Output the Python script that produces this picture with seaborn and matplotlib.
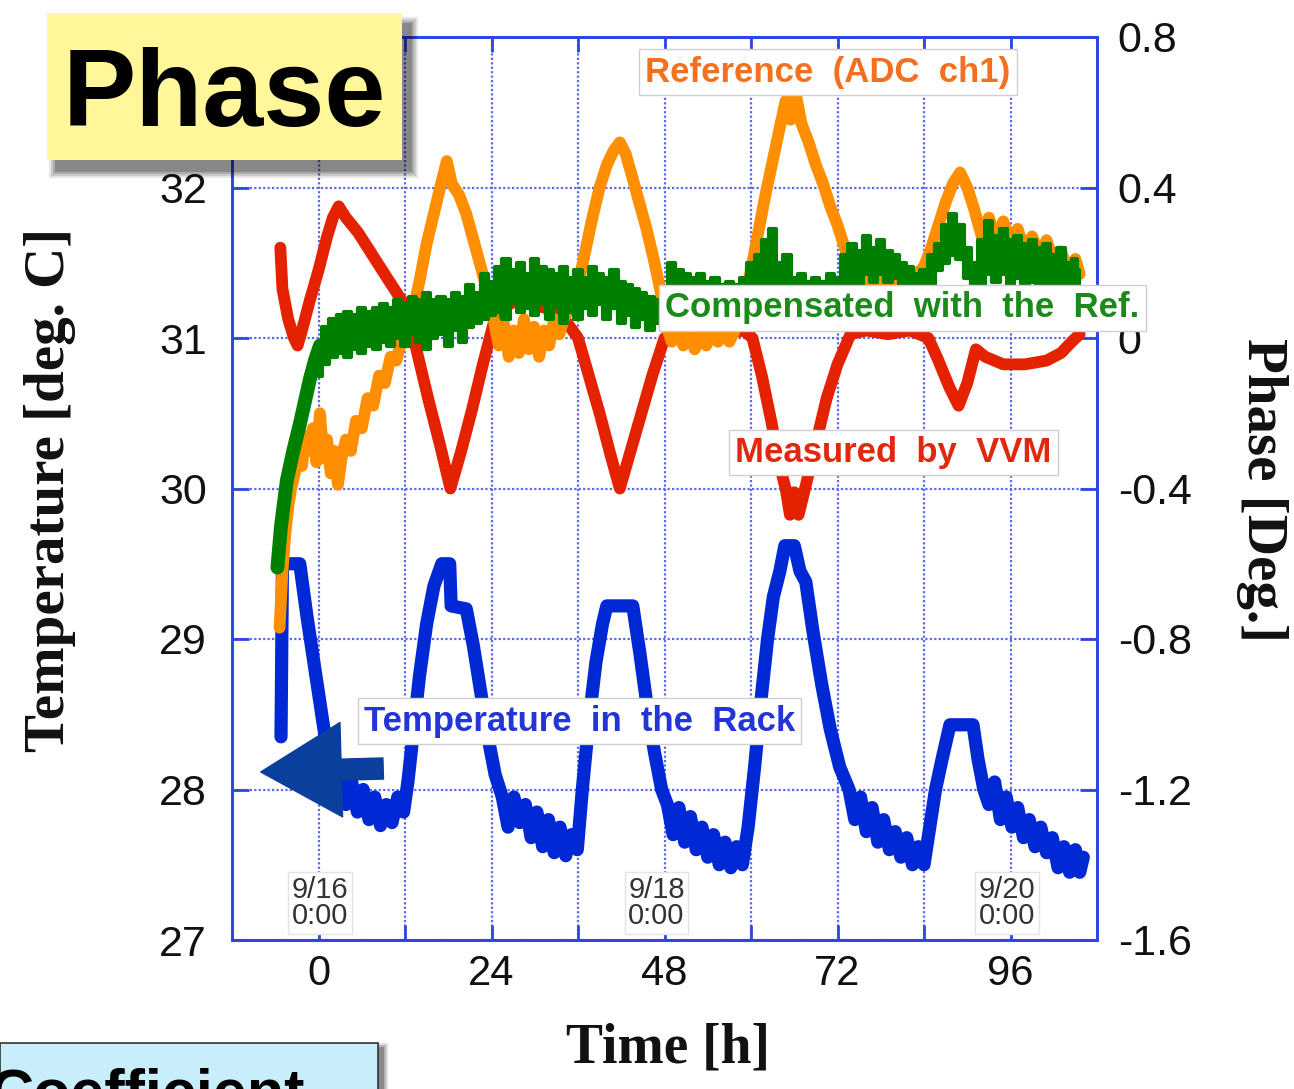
import matplotlib
matplotlib.use("Agg")
import matplotlib.pyplot as plt
import seaborn as sns
import numpy as np
from matplotlib.patches import Rectangle, FancyArrowPatch

# ---------------- data ----------------
blue_t = [-5.2, -5.0, -2.6, -1.6, -0.5, 0.6, 1.6, 2.3, 3.0, 3.8, 4.6, 5.4, 6.2, 7.0, 7.8, 8.6, 9.4,
          10.2, 11.0, 11.8, 12.4, 13.2, 14.0, 15.0, 16.0, 17.1, 18.2, 18.4, 20.5, 21.5, 22.5, 23.5,
          24.5, 25.5, 26.3, 27.1, 27.9, 28.7, 29.5, 30.3, 31.1, 31.9, 32.7, 33.5, 34.3, 35.1, 35.9,
          36.6, 37.5, 38.5, 39.4, 40.0, 43.6, 44.6, 45.6, 46.6, 47.6, 48.4, 49.2, 50.0, 50.8, 51.6,
          52.4, 53.2, 54.0, 54.8, 55.6, 56.4, 57.2, 58.0, 58.8, 59.6, 60.5, 61.4, 62.3, 63.1, 64.0,
          64.7, 66.0, 66.8, 67.6, 68.6, 69.8, 71.0, 72.3, 73.6, 74.4, 75.2, 76.0, 76.8, 77.6, 78.4,
          79.2, 80.0, 80.8, 81.6, 82.4, 83.2, 84.0, 84.8, 85.6, 86.5, 87.6, 90.8, 91.5, 92.3, 93.0,
          93.8, 94.6, 95.4, 96.2, 97.0, 97.8, 98.6, 99.4, 100.2, 101.0, 101.8, 102.6, 103.4, 104.2,
          105.0, 105.6, 106.1]
blue_temp = [28.35, 29.5, 29.5, 29.15, 28.8, 28.45, 28.15, 28.0, 28.1, 27.9, 28.05, 27.85, 28.0, 27.8,
             27.95, 27.76, 27.9, 27.78, 27.95, 27.85, 28.05, 28.4, 28.75, 29.1, 29.35, 29.5, 29.5,
             29.22, 29.2, 28.95, 28.65, 28.35, 28.1, 27.95, 27.75, 27.95, 27.78, 27.9, 27.68, 27.85,
             27.62, 27.8, 27.58, 27.75, 27.56, 27.7, 27.6, 28.0, 28.45, 28.85, 29.1, 29.22, 29.22,
             28.9, 28.55, 28.25, 28.0, 27.9, 27.7, 27.88, 27.65, 27.82, 27.6, 27.75, 27.55, 27.7,
             27.5, 27.65, 27.48, 27.62, 27.5, 27.75, 28.15, 28.6, 29.0, 29.28, 29.45, 29.62, 29.62,
             29.45, 29.38, 29.05, 28.7, 28.4, 28.15, 28.0, 27.8, 27.95, 27.72, 27.88, 27.65, 27.8,
             27.6, 27.72, 27.55, 27.68, 27.5, 27.62, 27.5, 27.75, 28.0, 28.2, 28.43, 28.43, 28.2,
             28.0, 27.9, 28.05, 27.8, 27.95, 27.75, 27.88, 27.68, 27.8, 27.62, 27.75, 27.58, 27.68,
             27.48, 27.62, 27.45, 27.6, 27.45, 27.55]

red_t = [-5.3, -5.0, -4.2, -3.4, -2.9, -2.3, -1.2, 0.0, 1.2, 2.0, 2.8, 3.8, 5.5, 7.5, 9.5, 11.2, 12.3,
         13.7, 15.2, 16.8, 18.3, 19.8, 21.3, 22.8, 24.3, 25.5, 27.5, 29.5, 31.5, 33.0, 34.5, 36.0,
         37.5, 39.0, 40.5, 41.8, 43.3, 44.8, 46.3, 48.0, 50.0, 53.0, 56.0, 59.0, 60.2, 61.5, 62.8,
         64.0, 64.8, 65.4, 66.0, 66.6, 67.5, 69.0, 70.5, 72.0, 73.8, 76.0, 79.0, 82.0, 84.6, 86.0,
         87.5, 88.8, 90.0, 91.2, 92.5, 95.0, 98.0, 101.0, 103.0, 104.5, 105.6]
red_phase = [0.24, 0.13, 0.05, 0.0, -0.02, 0.02, 0.10, 0.18, 0.27, 0.32, 0.35, 0.32, 0.28, 0.22, 0.16,
             0.11, 0.08, -0.04, -0.16, -0.28, -0.40, -0.30, -0.19, -0.07, 0.04, 0.08, 0.10, 0.09,
             0.08, 0.06, 0.04, 0.0, -0.10, -0.20, -0.31, -0.40, -0.30, -0.20, -0.10, 0.0, 0.02,
             0.02, 0.01, 0.02, 0.0, -0.10, -0.22, -0.34, -0.40, -0.47, -0.41, -0.47, -0.40, -0.28,
             -0.16, -0.07, 0.01, 0.02, 0.01, 0.02, 0.0, -0.06, -0.13, -0.18, -0.12, -0.03, -0.05,
             -0.07, -0.07, -0.06, -0.04, -0.01, 0.01]

orange_t = [-5.4, -5.0, -4.6, -4.2, -3.8, -3.3, -2.8, -2.3, -1.8, -1.3, -0.8, -0.3, 0.2, 0.7, 1.2, 1.7,
            2.2, 2.7, 3.2, 3.8, 4.5, 5.2, 6.0, 6.8, 7.6, 8.4, 9.2, 10.0, 10.8, 11.6, 12.4, 13.2, 14.0,
            15.0, 16.0, 17.0, 17.8, 18.5, 19.5, 20.5, 21.5, 22.5, 23.5, 24.3, 25.0, 25.7, 26.4, 27.1,
            27.8, 28.5, 29.2, 29.9, 30.6, 31.3, 32.0, 32.7, 33.4, 34.2, 35.0, 36.0, 37.0, 38.0, 39.0,
            40.0, 41.0, 41.8, 42.6, 43.5, 44.5, 45.5, 46.5, 47.5, 48.3, 49.0, 49.8, 50.6, 51.4, 52.2,
            53.0, 53.8, 54.6, 55.4, 56.2, 57.0, 58.0, 59.0, 60.0, 61.0, 62.0, 63.0, 64.0, 64.8, 65.5,
            66.2, 67.0, 68.0, 69.0, 70.0, 71.0, 72.0, 73.0, 74.0, 75.0, 76.0, 77.0, 78.0, 79.0, 80.0,
            81.0, 82.0, 83.0, 84.0, 85.0, 86.0, 87.0, 88.0, 89.0, 90.0, 91.0, 92.0, 93.0, 94.0, 95.0,
            96.0, 97.0, 98.0, 99.0, 100.0, 101.0, 102.0, 103.0, 104.0, 105.0, 105.6]
orange_phase = [-0.77, -0.62, -0.52, -0.45, -0.40, -0.36, -0.30, -0.34, -0.26, -0.30, -0.24, -0.33,
                -0.20, -0.32, -0.27, -0.36, -0.30, -0.39, -0.32, -0.27, -0.30, -0.22, -0.24, -0.16,
                -0.18, -0.10, -0.12, -0.05, -0.06, 0.00, 0.02, 0.08, 0.15, 0.25, 0.33, 0.41, 0.47,
                0.41, 0.38, 0.33, 0.26, 0.19, 0.12, 0.05, -0.02, 0.04, -0.05, 0.02, -0.04, 0.05, -0.03,
                0.03, -0.05, 0.02, -0.02, 0.05, 0.01, 0.06, 0.08, 0.14, 0.23, 0.32, 0.40, 0.46, 0.50,
                0.52, 0.49, 0.43, 0.36, 0.29, 0.21, 0.12, 0.03, -0.01, 0.02, -0.02, 0.01, -0.03, 0.01,
                -0.02, 0.02, -0.01, 0.01, -0.01, 0.03, 0.10, 0.18, 0.28, 0.38, 0.47, 0.56, 0.63, 0.58,
                0.65, 0.57, 0.52, 0.46, 0.41, 0.35, 0.30, 0.24, 0.18, 0.13, 0.16, 0.12, 0.15, 0.12,
                0.15, 0.13, 0.16, 0.17, 0.19, 0.24, 0.30, 0.36, 0.41, 0.44, 0.40, 0.34, 0.27, 0.32,
                0.26, 0.31, 0.25, 0.29, 0.23, 0.27, 0.22, 0.26, 0.20, 0.23, 0.18, 0.21, 0.17]

green_rise_t = [-5.7, -5.2, -4.4, -3.5, -2.6, -1.9, -1.2, -0.5, 0.2]
green_rise_phase = [-0.61, -0.50, -0.38, -0.30, -0.23, -0.17, -0.11, -0.06, -0.02]

green_t = list(range(0, 106)) + [105.5]
green_lo = [-0.10, -0.07, -0.05, -0.04, -0.05, -0.03, -0.04, -0.02, -0.03, -0.01, -0.02, 0.00, -0.02,
            0.01, -0.01, -0.03, 0.00, 0.01, -0.02, 0.02, -0.01, 0.03, 0.04, 0.05, 0.06, 0.07, 0.05,
            0.09, 0.07, 0.08, 0.06, 0.09, 0.05, 0.08, 0.04, 0.07, 0.05, 0.08, 0.06, 0.09, 0.05, 0.08,
            0.04, 0.06, 0.03, 0.05, 0.02, 0.04, 0.03, 0.08, 0.10, 0.07, 0.10, 0.08, 0.09, 0.07, 0.09,
            0.07, 0.08, 0.09, 0.10, 0.12, 0.10, 0.13, 0.10, 0.08, 0.10, 0.08, 0.09, 0.07, 0.09, 0.08,
            0.10, 0.09, 0.12, 0.14, 0.17, 0.15, 0.17, 0.15, 0.16, 0.13, 0.12, 0.11, 0.12, 0.14, 0.18,
            0.20, 0.22, 0.21, 0.16, 0.12, 0.14, 0.17, 0.15, 0.17, 0.14, 0.16, 0.13, 0.15, 0.13, 0.14,
            0.12, 0.14, 0.12, 0.13, 0.12]
green_hi = [-0.01, 0.03, 0.05, 0.06, 0.07, 0.06, 0.08, 0.07, 0.08, 0.09, 0.08, 0.10, 0.09, 0.11, 0.10,
            0.12, 0.10, 0.11, 0.10, 0.12, 0.11, 0.14, 0.12, 0.17, 0.15, 0.19, 0.21, 0.18, 0.20, 0.17,
            0.21, 0.19, 0.18, 0.17, 0.19, 0.16, 0.18, 0.16, 0.19, 0.17, 0.16, 0.18, 0.15, 0.14, 0.13,
            0.12, 0.11, 0.10, 0.12, 0.20, 0.18, 0.17, 0.16, 0.17, 0.15, 0.16, 0.14, 0.15, 0.14, 0.16,
            0.20, 0.22, 0.26, 0.29, 0.20, 0.22, 0.16, 0.17, 0.15, 0.16, 0.15, 0.17, 0.16, 0.22, 0.25,
            0.23, 0.27, 0.24, 0.26, 0.23, 0.22, 0.20, 0.19, 0.17, 0.18, 0.22, 0.25, 0.30, 0.33, 0.30,
            0.24, 0.20, 0.26, 0.31, 0.27, 0.29, 0.26, 0.27, 0.25, 0.26, 0.24, 0.25, 0.22, 0.24, 0.20,
            0.21, 0.18]

temp_ticks = [27, 28, 29, 30, 31, 32, 33]
temp_labels = ["27", "28", "29", "30", "31", "32", ""]
phase_ticks = [-1.6, -1.2, -0.8, -0.4, 0.0, 0.4, 0.8]
phase_labels = ["-1.6", "-1.2", "-0.8", "-0.4", "0", "0.4", "0.8"]
time_ticks = [0, 24, 48, 72, 96]
time_labels = ["0", "24", "48", "72", "96"]
time_minor = [12, 36, 60, 84]
date_labels = ["9/16\n0:00", "9/18\n0:00", "9/20\n0:00"]

# ---------------- style ----------------
sns.set_theme(style="white")
plt.rcParams["font.family"] = ["Liberation Sans", "DejaVu Sans"]
plt.rcParams["axes.unicode_minus"] = False

BLUE = "#0028d4"
RED = "#e42200"
ORANGE = "#ff8f00"
GREEN = "#008000"
FRAME = "#2d46e2"
GRID = "#5a68ee"
SERIF = ["Liberation Serif", "DejaVu Serif"]

W, H = 1294, 1089
fig = plt.figure(figsize=(W / 100, H / 100), dpi=100)
fig.patch.set_facecolor("white")
L, R, T, B = 232, 1097, 37, 940
ax = fig.add_axes([L / W, 1 - B / H, (R - L) / W, (B - T) / H])
ax2 = ax.twinx()

# ---------------- marks ----------------
sns.lineplot(x=blue_t, y=blue_temp, ax=ax, color=BLUE, lw=9.5,
             estimator=None, sort=False, legend=False)
sns.lineplot(x=red_t, y=red_phase, ax=ax2, color=RED, lw=8.5,
             estimator=None, sort=False, legend=False, zorder=2)
sns.lineplot(x=orange_t, y=orange_phase, ax=ax2, color=ORANGE, lw=8.5,
             estimator=None, sort=False, legend=False, zorder=3)
ax2.fill_between(green_t, green_lo, green_hi, step="mid", color=GREEN, lw=3,
                 edgecolor=GREEN, zorder=4)
sns.lineplot(x=green_rise_t, y=green_rise_phase, ax=ax2, color=GREEN, lw=10,
             estimator=None, sort=False, legend=False, zorder=4)

# ---------------- axes ----------------
ax.set_xlim(-12, 108)
ax.set_ylim(27, 33)
ax2.set_ylim(-1.6, 0.8)
ax.set_xticks(time_ticks)
ax.set_xticklabels(time_labels)
ax.set_xticks(time_minor, minor=True)
ax.set_yticks(temp_ticks)
ax.set_yticklabels(temp_labels)
ax2.set_yticks(phase_ticks)
ax2.set_yticklabels(phase_labels)
ax.set_xlabel("")
ax.set_ylabel("")
ax2.set_ylabel("")

ax.set_axisbelow(True)
ax.grid(axis="x", which="both", color=GRID, ls=(0, (1, 1)), lw=1.6)
ax.grid(axis="y", which="major", color=GRID, ls=(0, (1, 1)), lw=1.6)
ax2.grid(False)

for a in (ax, ax2):
    for s in a.spines.values():
        s.set_color(FRAME)
        s.set_linewidth(2)

ax.tick_params(axis="x", which="both", direction="in", length=11, width=2, color=FRAME,
               top=True, bottom=True, labelsize=30, pad=10, labelcolor="#111111")
ax.tick_params(axis="y", which="major", direction="in", length=12, width=2, color=FRAME,
               left=True, right=False, labelsize=31, pad=18, labelcolor="#111111")
ax2.tick_params(axis="y", which="major", direction="in", length=12, width=2, color=FRAME,
                right=True, labelsize=31, pad=15, labelcolor="#111111")

# ---------------- annotations ----------------
box = dict(boxstyle="square,pad=0.18", fc="white", ec="#cfcfcf", lw=1)
ax2.text(0.4775, 0.961, "Reference  (ADC  ch1)", transform=ax2.transAxes, ha="left",
         va="center", color="#f5701e", weight="bold", size=25, bbox=box, zorder=10)
ax2.text(0.5006, 0.700, "Compensated  with  the  Ref.", transform=ax2.transAxes, ha="left",
         va="center", color="#1a8a1a", weight="bold", size=25, bbox=box, zorder=10)
ax2.text(0.5815, 0.540, "Measured  by  VVM", transform=ax2.transAxes, ha="left",
         va="center", color="#e0280e", weight="bold", size=25, bbox=box, zorder=10)
ax2.text(0.1526, 0.2425, "Temperature  in  the  Rack", transform=ax2.transAxes, ha="left",
         va="center", color="#2435d8", weight="bold", size=25, bbox=box, zorder=10)

date_x = [0.1017, 0.4908, 0.896]
for dx, lab in zip(date_x, date_labels):
    ax2.text(dx, 0.041, lab, transform=ax2.transAxes, ha="center", va="center",
             color="#333333", size=21, linespacing=0.95,
             bbox=dict(boxstyle="square,pad=0.12", fc="white", ec="#e4e4e4", lw=1), zorder=10)

arrow = FancyArrowPatch((0.178, 0.190), (0.030, 0.186), transform=ax2.transAxes,
                        arrowstyle="simple,head_length=1.45,head_width=1.7,tail_width=0.38",
                        mutation_scale=40, color="#0b3f9e", zorder=11)
ax2.add_patch(arrow)

# axis titles
fig.text(50 / W, 1 - 490 / H, "Temperature [deg. C]", rotation=90, ha="center", va="center",
         family=SERIF, weight="bold", size=41, color="#111111")
fig.text(1262 / W, 1 - 490 / H, "Phase [Deg.]", rotation=270, ha="center", va="center",
         family=SERIF, weight="bold", size=41, color="#111111")
fig.text(668 / W, 1 - 1048 / H, "Time [h]", ha="center", va="center",
         family=SERIF, weight="bold", size=40, color="#111111")

# ---------------- slide boxes ----------------
def fr(x0, y0, x1, y1, **kw):
    r = Rectangle((x0 / W, 1 - y1 / H), (x1 - x0) / W, (y1 - y0) / H,
                  transform=fig.transFigure, **kw)
    fig.add_artist(r)

for i, a in enumerate([0.10, 0.12, 0.15, 0.2]):
    g = 8 - 2 * i
    fr(47 + 10 - g, 13 + 12 - g, 402 + 8 + g, 160 + 10 + g, fc="black", ec="none", alpha=a, zorder=19)
fr(47, 13, 402, 160, fc="#fff799", ec="none", zorder=20)
fig.text(224 / W, 1 - 126 / H, "Phase", ha="center", va="baseline", weight="bold",
         size=79, color="black", zorder=21)

for i, a in enumerate([0.12, 0.18, 0.25]):
    g = 6 - 2 * i
    fr(0, 1043 + 6 - g, 378 + 4 + g, 1100, fc="black", ec="none", alpha=a, zorder=19)
fr(0, 1043, 378, 1100, fc="#c8edfb", ec="#333333", lw=1.2, zorder=20)
fig.text(-10 / W, 1 - 1111 / H, "Coefficient", ha="left", va="baseline", weight="bold",
         size=44, color="black", zorder=21)

fig.savefig("out.png", dpi=100, facecolor="white")
